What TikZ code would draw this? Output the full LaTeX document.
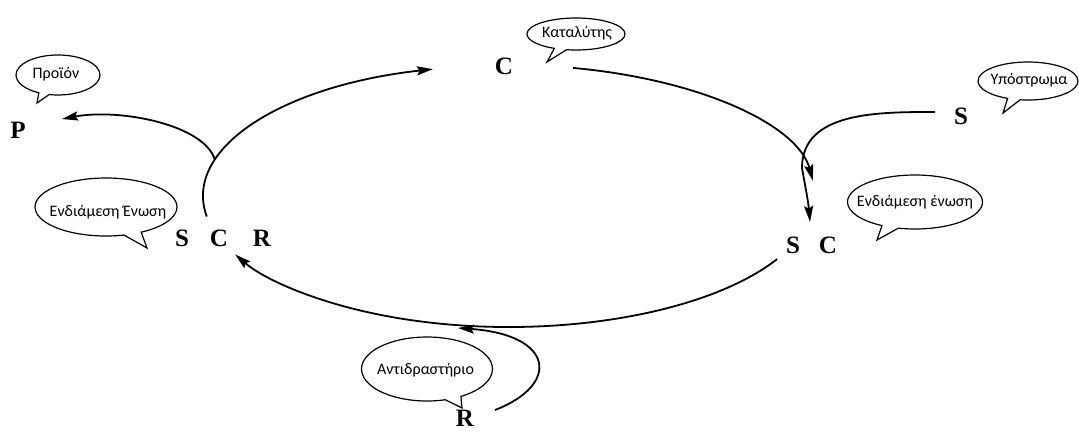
\documentclass[tikz,border=0pt]{standalone}
\usepackage{fontspec}
\setmainfont{Liberation Serif}
\newfontfamily\calfont{Carlito}
\usetikzlibrary{arrows.meta,shapes.callouts,calc}
\begin{document}
\begin{tikzpicture}[x=1pt,y=1pt,
  letter/.style={font=\fontsize{25}{28}\selectfont\bfseries, inner sep=0pt},
  bubble/.style={ellipse callout, draw, line width=1.2pt, inner sep=0pt},
  btext/.style={font=\calfont\fontsize{16}{18}\selectfont, inner sep=0pt},
  flow/.style={line width=1.8pt, -{Stealth[length=16pt,width=9pt,inset=2.5pt]}},
  plain/.style={line width=1.8pt}]
\useasboundingbox (0,0) rectangle (1079,-432);
% letters
\node[letter] (P) at (18,-130) {P};
\node[letter] (Ctop) at (504,-66) {C};
\node[letter] (Sin) at (961,-116) {S};
\node[letter] (S1) at (793,-245) {S};
\node[letter] (C1) at (828,-245) {C};
\node[letter] (S2) at (182,-238) {S};
\node[letter] (C2) at (219,-238) {C};
\node[letter] (R2) at (262,-238) {R};
\node[letter] (Rin) at (465,-418) {R};
% callouts
\node[bubble, minimum width=84pt, minimum height=40pt, callout absolute pointer={(37,-103)}] (bP) at (58,-75) {};
\node[btext] (tP) at (56,-74) {Προϊόν};
\node[bubble, minimum width=98pt, minimum height=32pt, callout absolute pointer={(547,-62)}] (bC) at (576,-34) {};
\node[btext] (tC) at (577,-33) {Καταλύτης};
\node[bubble, minimum width=100pt, minimum height=38pt, callout absolute pointer={(1003,-113)}] (bS) at (1028,-81) {};
\node[btext] (tS) at (1029,-80) {Υπόστρωμα};
\node[bubble, minimum width=135pt, minimum height=54pt, callout absolute pointer={(877,-240)}] (bSC) at (915,-202) {};
\node[btext] (tSC) at (915,-202) {Ενδιάμεση ένωση};
\node[bubble, minimum width=142pt, minimum height=58pt, callout absolute pointer={(147,-248)}] (bSCR) at (106,-207) {};
\node[btext] (tSCR) at (108,-212) {Ενδιάμεση Ένωση};
\node[bubble, minimum width=131pt, minimum height=64pt, callout absolute pointer={(462,-408)}] (bR) at (427,-369) {};
\begin{scope}
\clip (362,-337) rectangle (487,-402);
\node[btext, anchor=west] (tR) at (377,-370) {Αντιδραστήριο};
\end{scope}
% cycle geometry
\coordinate (O) at (509,-196);
\coordinate (e1) at ($(O)+(189:306pt and 131pt)$);
\coordinate (e2) at ($(O)+(77.9:306pt and 131pt)$);
\coordinate (e3) at ($(O)+(-28.8:306pt and 131pt)$);
\coordinate (eP) at ($(O)+(164:306pt and 131pt)$);
\coordinate (Ptip) at (62,-119);
\coordinate (Sstart) at (935,-112);
\coordinate (Sbend) at (802,-168);
\coordinate (SCtip) at (810,-222);
\coordinate (Rstart) at (495,-410);
\coordinate (Rtip) at (458,-328);
\draw[flow] (e1) arc[start angle=189, end angle=104.4, x radius=306pt, y radius=131pt];
\draw[flow] (e2) arc[start angle=77.9, end angle=6.7, x radius=306pt, y radius=131pt];
\draw[flow] (e3) arc[start angle=-28.8, end angle=-153.5, x radius=306pt, y radius=131pt];
\draw[flow] (eP) .. controls (205,-125) and (120,-108) .. (Ptip);
\draw[flow] (Sstart) to[out=180,in=90] (Sbend) to[out=-80,in=95] (SCtip);
\draw[flow] (Rstart) .. controls (560,-385) and (555,-335) .. (Rtip);
\end{tikzpicture}
\end{document}
